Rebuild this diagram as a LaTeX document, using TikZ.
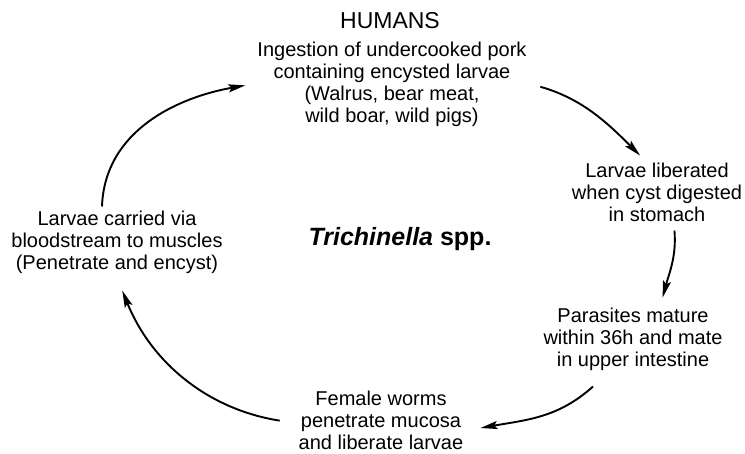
\documentclass[tikz,border=0pt]{standalone}
\usepackage{fontspec}
\setmainfont{Liberation Sans}
\usetikzlibrary{arrows.meta}

\begin{document}
\begin{tikzpicture}[x=1pt,y=1pt,
  stage/.style={align=center,inner sep=4pt,font=\fontsize{20}{22}\selectfont},
  flow/.style={-{Stealth[length=17pt,width=8pt,inset=3pt]},line width=1.9pt}]
  \useasboundingbox (0,0) rectangle (745,453);
  \node[font=\fontsize{23}{26}\selectfont] (humans) at (390,432) {HUMANS};
  \node[stage] (ingest) at (392,369) {Ingestion of undercooked pork\\containing encysted larvae\\(Walrus, bear meat,\\wild boar, wild pigs)};
  \node[stage] (liberated) at (657,261) {Larvae liberated\\when cyst digested\\in stomach};
  \node[stage] (mature) at (633,114) {Parasites mature\\within 36h and mate\\in upper intestine};
  \node[stage] (worms) at (381,33) {Female worms\\penetrate mucosa\\and liberate larvae};
  \node[stage] (carried) at (117,211) {Larvae carried via\\bloodstream to muscles\\(Penetrate and encyst)};
  \node[font=\fontsize{25}{28}\selectfont\bfseries] (species) at (400,214) {\textit{Trichinella} spp.};
  \draw[flow,shorten >=8pt] ([xshift=-15pt]carried.north) to[out=88,in=190] (ingest.west);
  \draw[flow,shorten <=10pt,shorten >=4pt] (ingest.east) to[out=-16,in=135] ([xshift=-14pt]liberated.north);
  \draw[flow,shorten <=5pt,shorten >=6pt] ([xshift=17pt]liberated.south) to[out=-85,in=75] ([xshift=28pt]mature.north);
  \draw[flow] ([shift={(-40pt,-12pt)}]mature.south) to[out=-138,in=10] ([shift={(13pt,-8pt)}]worms.east);
  \draw[flow,shorten <=15pt,shorten >=14pt] ([yshift=-3pt]worms.west) to[out=171,in=-68] (carried.south);
\end{tikzpicture}
\end{document}
